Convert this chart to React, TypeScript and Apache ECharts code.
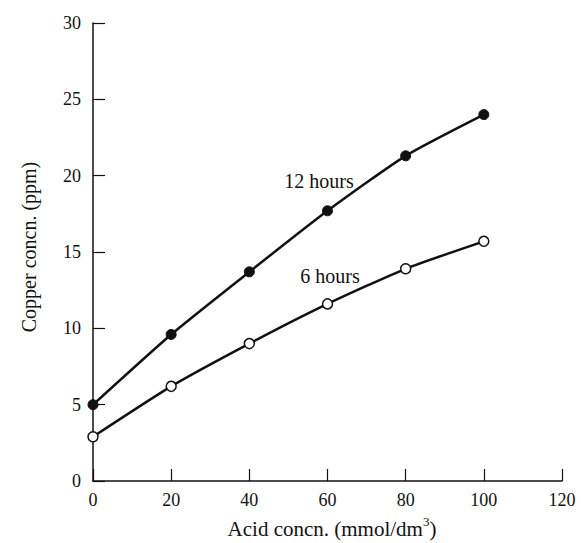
import React, { useEffect, useRef } from "react";
import * as echarts from "echarts";

const acidConc = [0, 20, 40, 60, 80, 100];
const copper12h = [5.0, 9.6, 13.7, 17.7, 21.3, 24.0];
const copper6h = [2.9, 6.2, 9.0, 11.6, 13.9, 15.7];
const xTicks = { min: 0, max: 120, interval: 20 };
const yTicks = { min: 0, max: 30, interval: 5 };
const xNameMain = "Acid concn. (mmol/dm";
const xNameSup = "3";
const xNameEnd = ")";
const yName = "Copper concn. (ppm)";
const label12 = "12 hours";
const label6 = "6 hours";

const FONT = "'Liberation Serif', 'DejaVu Serif', serif";

export default function App() {
  const ref = useRef<HTMLDivElement>(null);
  useEffect(() => {
    if (!ref.current) return;
    const chart = echarts.init(ref.current, null, { renderer: "svg" });
    const axisCommon = {
      axisLine: { show: true, lineStyle: { color: "#111", width: 1.5 } },
      axisTick: { show: true, inside: true, length: 12, lineStyle: { color: "#111", width: 1.2 } },
      splitLine: { show: false },
      axisLabel: { color: "#111", fontFamily: FONT, fontSize: 18 },
    };
    chart.setOption({
      animation: false,
      backgroundColor: "#fff",
      grid: { left: 93, top: 23, right: 19, bottom: 62, containLabel: false },
      xAxis: {
        type: "value",
        ...xTicks,
        ...axisCommon,
        axisLabel: { ...axisCommon.axisLabel, margin: 10 },
      },
      yAxis: {
        type: "value",
        ...yTicks,
        ...axisCommon,
        axisLabel: { ...axisCommon.axisLabel, margin: 12 },
      },
      series: [
        {
          name: label12,
          type: "line",
          data: acidConc.map((x, i) => [x, copper12h[i]]),
          smooth: 0.2,
          symbol: "circle",
          symbolSize: 10,
          lineStyle: { color: "#111", width: 2.5 },
          itemStyle: { color: "#111", borderColor: "#111", borderWidth: 1 },
        },
        {
          name: label6,
          type: "line",
          data: acidConc.map((x, i) => [x, copper6h[i]]),
          smooth: 0.2,
          symbol: "circle",
          symbolSize: 10,
          lineStyle: { color: "#111", width: 2.5 },
          itemStyle: { color: "#fff", borderColor: "#111", borderWidth: 1.5 },
        },
      ],
      graphic: [
        {
          type: "text",
          x: 332,
          y: 527,
          style: {
            text: `{m|${xNameMain}}{s|${xNameSup}}{m|${xNameEnd}}`,
            fill: "#111",
            align: "center",
            verticalAlign: "middle",
            rich: {
              m: { fontFamily: FONT, fontSize: 21, fill: "#111", lineHeight: 24, verticalAlign: "bottom" },
              s: { fontFamily: FONT, fontSize: 13, fill: "#111", lineHeight: 24, verticalAlign: "top" },
            },
          },
        },
        {
          type: "text",
          x: 29,
          y: 247,
          rotation: Math.PI / 2,
          style: { text: yName, fontFamily: FONT, fontSize: 20, fill: "#111", align: "center", verticalAlign: "middle" },
        },
        {
          type: "text",
          x: 319,
          y: 181,
          style: { text: label12, fontFamily: FONT, fontSize: 20, fill: "#111", align: "center", verticalAlign: "middle" },
        },
        {
          type: "text",
          x: 330,
          y: 276,
          style: { text: label6, fontFamily: FONT, fontSize: 20, fill: "#111", align: "center", verticalAlign: "middle" },
        },
      ],
    });
    return () => chart.dispose();
  }, []);
  return <div ref={ref} style={{ width: 581, height: 543, position: "absolute", left: 0, top: 0 }} />;
}
